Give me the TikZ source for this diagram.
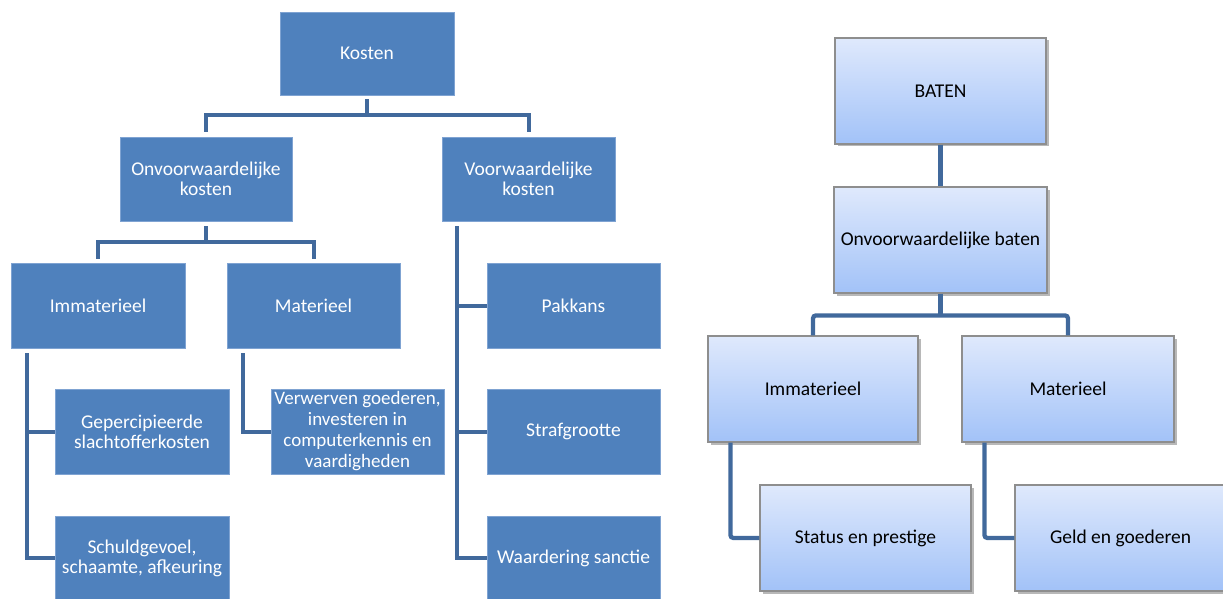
\documentclass[tikz,border=0pt]{standalone}
\usepackage{fontspec}
\setmainfont{Carlito}
\usetikzlibrary{calc,shadows}
\definecolor{boxblue}{HTML}{4F81BD}
\definecolor{boxedge}{HTML}{7FA3D2}
\definecolor{linkblue}{HTML}{41699C}
\definecolor{gradtop}{HTML}{DFE9FC}
\definecolor{gradbot}{HTML}{A2C2F8}
\definecolor{edgegray}{HTML}{8E8E8E}
\begin{document}
\begin{tikzpicture}[x=1pt,y=-1pt,
  costbox/.style={rectangle, fill=boxblue, draw=boxedge, line width=0.8pt,
    text=white, align=center, inner sep=0pt,
    font=\fontsize{19.5}{20}\selectfont},
  gainbox/.style={rectangle, top color=gradtop, bottom color=gradbot,
    draw=edgegray, line width=1.2pt, text=black, align=center, inner sep=0pt,
    font=\fontsize{19.5}{22}\selectfont,
    drop shadow={shadow xshift=2.5pt, shadow yshift=-2.5pt, fill=black, opacity=0.28}},
  costlink/.style={draw=linkblue, line width=4pt},
  gainlink/.style={draw=linkblue, line width=4.3pt, rounded corners=3pt}]

\fill[white] (0,0) rectangle (1223,599);
\useasboundingbox (0,0) rectangle (1223,599);

% ---------- Kosten tree ----------
\node[costbox, minimum width=174pt, minimum height=83pt] (kos) at (367,53.5) {Kosten};
\node[costbox, minimum width=172pt, minimum height=84pt] (onv) at (206,179) {Onvoorwaardelijke\\kosten};
\node[costbox, minimum width=173pt, minimum height=84pt] (voo) at (528.5,179) {Voorwaardelijke\\kosten};
\node[costbox, minimum width=174pt, minimum height=85pt] (imm) at (98,305.5) {Immaterieel};
\node[costbox, minimum width=173pt, minimum height=85pt] (mat) at (313.5,305.5) {Materieel};
\node[costbox, minimum width=173pt, minimum height=85pt] (pak) at (573.5,305.5) {Pakkans};
\node[costbox, minimum width=174pt, minimum height=85pt] (gep) at (142,431.5) {Gepercipieerde\\slachtofferkosten};
\node[costbox, minimum width=173pt, minimum height=85pt,
      font=\fontsize{19}{21}\selectfont] (ver) at (357.5,431.5)
      {Verwerven goederen,\\investeren in\\computerkennis en\\vaardigheden};
\node[costbox, minimum width=173pt, minimum height=85pt] (str) at (573.5,431.5) {Strafgrootte};
\node[costbox, minimum width=174pt, minimum height=84pt] (sch) at (142,558) {Schuldgevoel,\\schaamte, afkeuring};
\node[costbox, minimum width=173pt, minimum height=84pt] (waa) at (573.5,558) {Waardering sanctie};

% top level bus
\draw[costlink] ($(kos.south)+(0,4)$) -- ($(kos.south)+(0,20)$);
\draw[costlink] ($(onv.north)+(0,-5)$) -- ($(onv.north)+(0,-22)$) -| ($(voo.north)+(0,-5)$);
% second level bus
\draw[costlink] ($(onv.south)+(0,5)$) -- ($(onv.south)+(0,21)$);
\draw[costlink] ($(imm.north)+(0,-4)$) -- ($(imm.north)+(0,-21)$) -| ($(mat.north)+(0,-4)$);
% side branches
\coordinate (vx) at ($(voo.south west)+(15,5)$);
\draw[costlink] (vx) |- (waa.west);
\draw[costlink] (str.west) -- (str.west -| vx);
\draw[costlink] (pak.west) -- (pak.west -| vx);

\coordinate (ix) at ($(imm.south west)+(16,5)$);
\draw[costlink] (ix) |- (sch.west);
\draw[costlink] (gep.west) -- (gep.west -| ix);

\coordinate (mx) at ($(mat.south west)+(16,5)$);
\draw[costlink] (mx) |- (ver.west);

% ---------- Baten tree ----------
\node[gainbox, minimum width=211pt, minimum height=106pt] (bat) at (940.5,91) {BATEN};
\node[gainbox, minimum width=213pt, minimum height=106pt] (onb) at (940.5,240) {Onvoorwaardelijke baten};
\node[gainbox, minimum width=210pt, minimum height=106pt] (rim) at (813,389) {Immaterieel};
\node[gainbox, minimum width=212pt, minimum height=106pt] (rma) at (1068,389) {Materieel};
\node[gainbox, minimum width=211pt, minimum height=106pt] (sta) at (865.5,538) {Status en prestige};
\node[gainbox, minimum width=211pt, minimum height=106pt] (gel) at (1120.5,538) {Geld en goederen};

\draw[gainlink] (bat.south) -- (onb.north);
\draw[gainlink] (onb.south) -- ($(onb.south)+(0,23)$);
\draw[gainlink] (rim.north) -- ($(rim.north)+(0,-20)$) -| (rma.north);
\draw[gainlink] ($(rim.south west)+(23,0)$) |- (sta.west);
\draw[gainlink] ($(rma.south west)+(23,0)$) |- (gel.west);
\end{tikzpicture}
\end{document}
